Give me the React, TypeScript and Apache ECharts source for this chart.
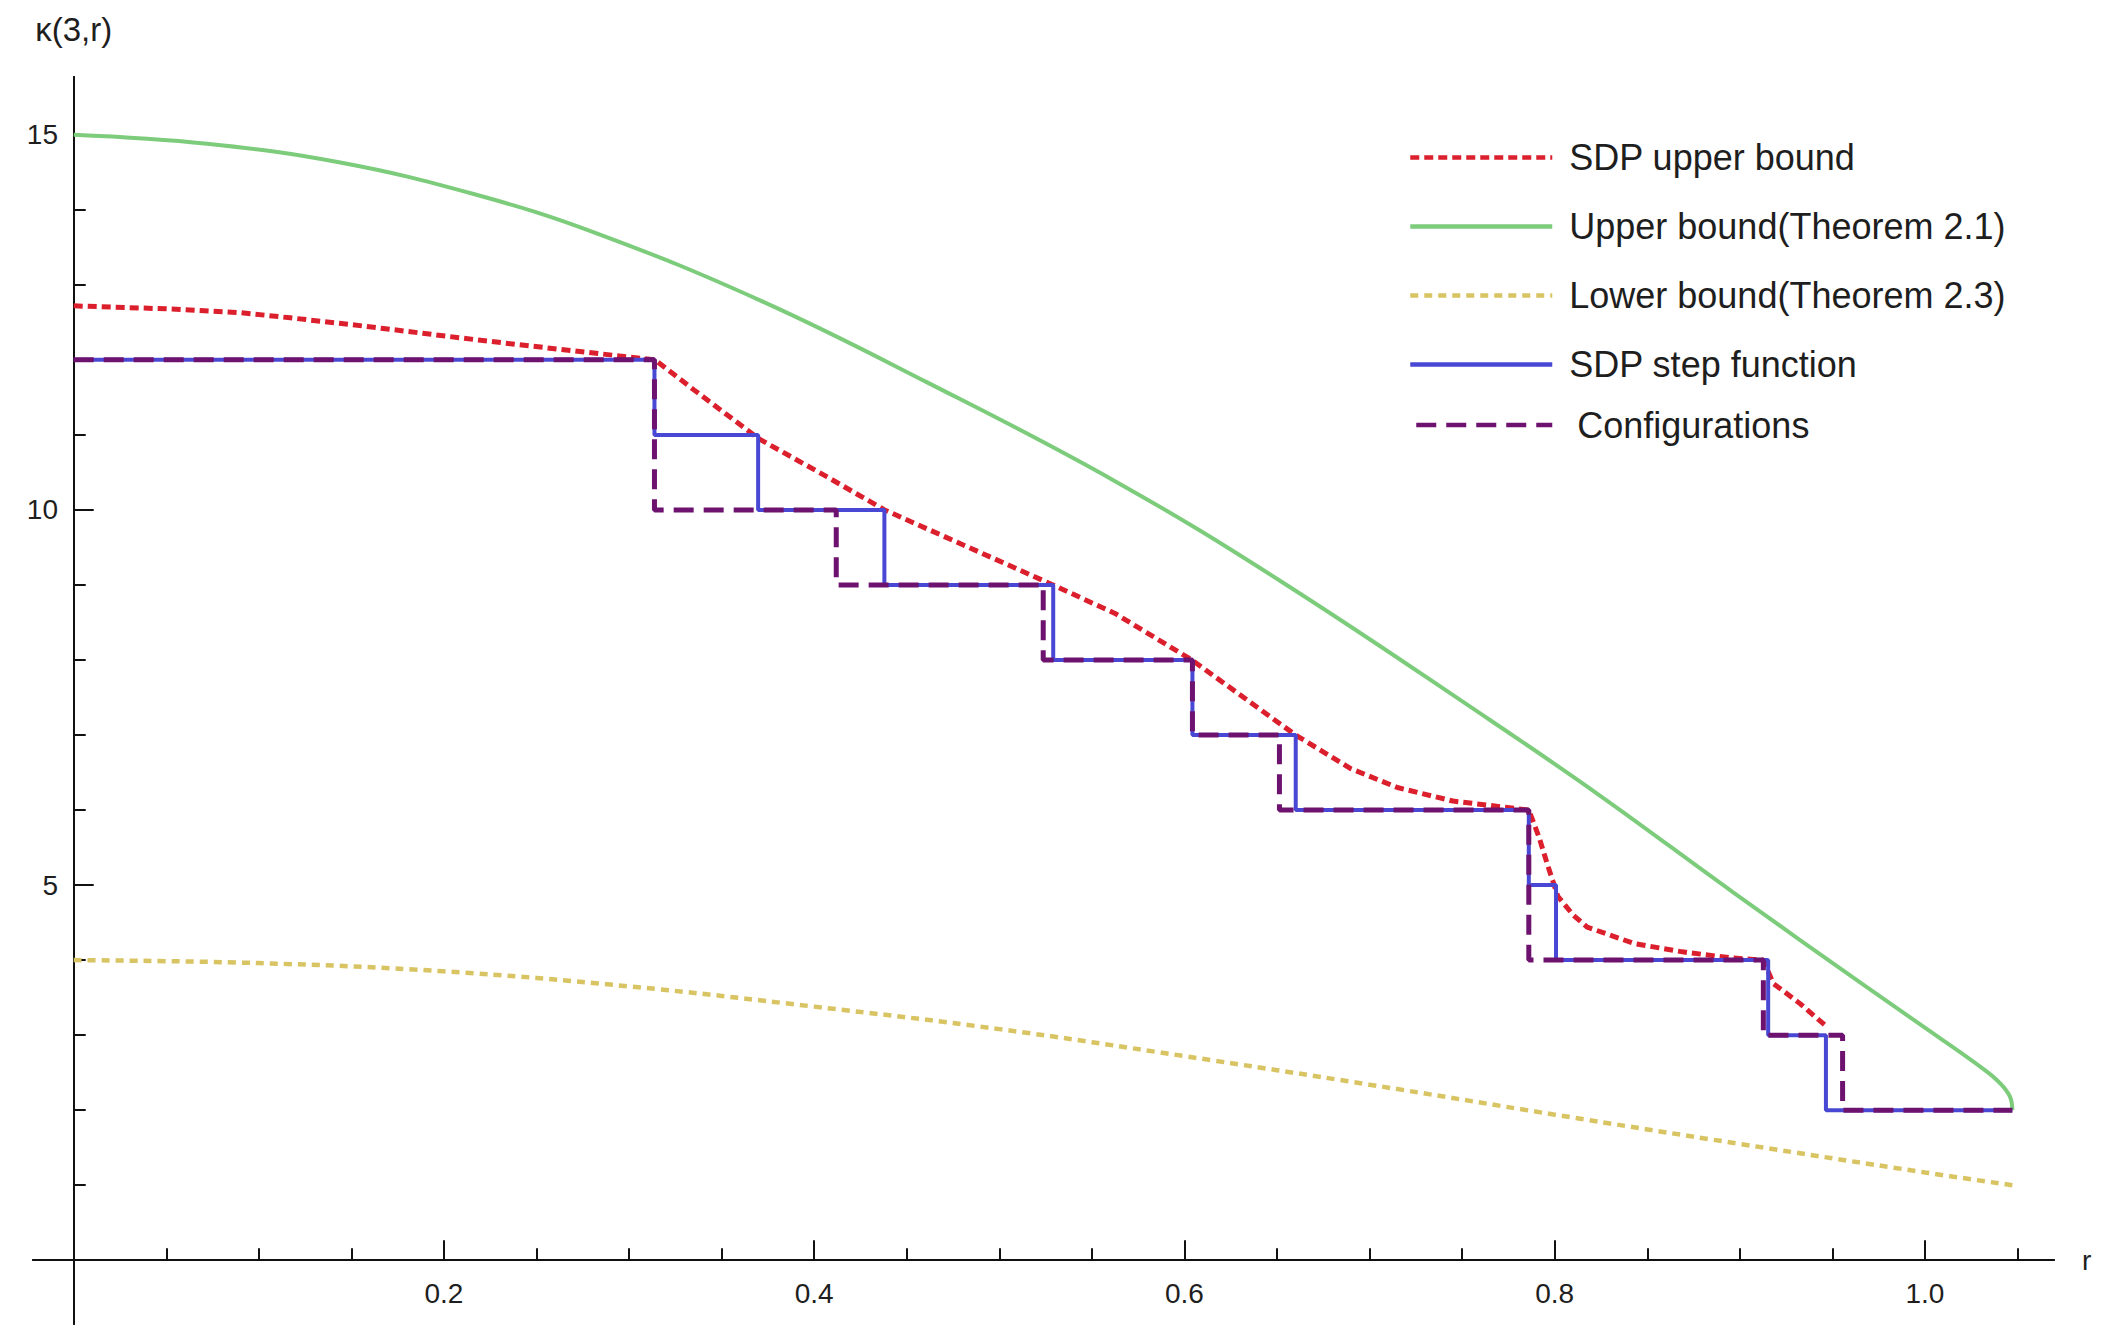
import React, { useEffect, useRef } from "react";
import * as echarts from "echarts";

// ---- data ----
const sdpUpperR = [0, 0.05, 0.09, 0.117, 0.15, 0.18, 0.22, 0.27, 0.314, 0.335, 0.37, 0.407, 0.438, 0.479, 0.529, 0.5625, 0.604, 0.632, 0.66, 0.69, 0.715, 0.745, 0.786, 0.7915, 0.7965, 0.8017, 0.81, 0.8175, 0.843, 0.869, 0.895, 0.9127, 0.918, 0.9325, 0.9466];
const sdpUpperK = [12.72, 12.68, 12.63, 12.56, 12.47, 12.38, 12.26, 12.12, 12.0, 11.6, 10.95, 10.44, 10.0, 9.55, 9.0, 8.62, 8.0, 7.5, 7.0, 6.55, 6.3, 6.12, 6.0, 5.64, 5.24, 4.85, 4.6, 4.44, 4.22, 4.11, 4.03, 4.0, 3.69, 3.42, 3.12];

const thm21R = [0, 0.072, 0.144, 0.216, 0.281, 0.371, 0.461, 0.562, 0.652, 0.765, 0.824, 0.896, 0.968, 1.004, 1.032, 1.0405, 1.0459, 1.0472];
const thm21K = [15.0, 14.88, 14.63, 14.21, 13.7, 12.79, 11.7, 10.39, 9.05, 7.2, 6.2, 4.91, 3.65, 3.03, 2.54, 2.36, 2.18, 2.0];

const thm23R = [0, 0.1, 0.2, 0.3, 0.4, 0.5, 0.6, 0.7, 0.8, 0.9, 1.0, 1.0472];
const thm23K = [4.0, 3.96, 3.85, 3.65, 3.38, 3.08, 2.72, 2.34, 1.94, 1.55, 1.17, 1.0];

const stepR = [0, 0.3137, 0.3697, 0.4379, 0.5291, 0.6043, 0.6601, 0.786, 0.8007, 0.9153, 0.9465, 1.0472];
const stepK = [12, 11, 10, 9, 8, 7, 6, 5, 4, 3, 2, 2];

const configR = [0, 0.3137, 0.4119, 0.5237, 0.6043, 0.6513, 0.786, 0.9127, 0.9555, 1.0472];
const configK = [12, 10, 9, 8, 7, 6, 4, 3, 2, 2];

const xMajorTicks = [0.2, 0.4, 0.6, 0.8, 1.0];
const xMinorTicks = [0.05, 0.1, 0.15, 0.25, 0.3, 0.35, 0.45, 0.5, 0.55, 0.65, 0.7, 0.75, 0.85, 0.9, 0.95, 1.05];
const xTickLabels = [0.2, 0.4, 0.6, 0.8, 1.0];
const yMajorTicks = [5, 10, 15];
const yMinorTicks = [1, 2, 3, 4, 6, 7, 8, 9, 11, 12, 13, 14];
const yTickLabels = [5, 10, 15];

const legendNamesMain = [
  "SDP upper bound",
  "Upper bound(Theorem 2.1)",
  "Lower bound(Theorem 2.3)",
  "SDP step function",
];
const legendNamesLast = ["Configurations"];

const X_MIN = -0.022;
const X_MAX = 1.0697;
const Y_MIN = -0.85;
const Y_MAX = 15.77;

const FONT = "'Liberation Sans', Arial, sans-serif";
const AXIS_COLOR = "#111";
const TEXT_COLOR = "#1e1e1e";

const zip = (xs: number[], ys: number[]) => xs.map((x, i) => [x, ys[i]]);

export default function App() {
  const ref = useRef<HTMLDivElement>(null);

  useEffect(() => {
    document.body.style.margin = "0";
    document.body.style.overflow = "hidden";
    const chart = echarts.init(ref.current!, null, { renderer: "svg" });

    const xAxisBase = (idx: number) => ({
      type: "value",
      min: X_MIN,
      max: X_MAX,
      position: "bottom",
      axisLine: { show: true, onZero: true, onZeroAxisIndex: idx, lineStyle: { color: AXIS_COLOR, width: 2 } },
      splitLine: { show: false },
    });
    const yAxisBase = (idx: number) => ({
      type: "value",
      min: Y_MIN,
      max: Y_MAX,
      position: "left",
      axisLine: { show: true, onZero: true, onZeroAxisIndex: idx, lineStyle: { color: AXIS_COLOR, width: 2 } },
      splitLine: { show: false },
    });

    const legendCommon = {
      orient: "vertical",
      padding: 0,
      itemHeight: 14,
      selectedMode: false,
      itemStyle: { opacity: 0 },
      lineStyle: { width: 4.5 },
    };

    chart.setOption({
      animation: false,
      backgroundColor: "#ffffff",
      grid: { left: 33, right: 64, top: 77, bottom: 11, containLabel: false, outerBoundsMode: "none" },
      legend: [
        {
          ...legendCommon,
          data: legendNamesMain,
          left: 1408,
          top: 139.5,
          itemWidth: 142,
          itemGap: 33,
          textStyle: { fontSize: 36, color: TEXT_COLOR, fontFamily: FONT, padding: [0, 0, 0, 12] },
        },
        {
          ...legendCommon,
          data: legendNamesLast,
          left: 1414,
          top: 407,
          itemWidth: 136,
          itemGap: 33,
          textStyle: { fontSize: 36, color: TEXT_COLOR, fontFamily: FONT, padding: [0, 0, 0, 20] },
        },
      ],
      xAxis: [
        {
          ...xAxisBase(0),
          name: "r",
          nameLocation: "end",
          nameGap: 28,
          nameTextStyle: { fontSize: 28, color: TEXT_COLOR, fontFamily: FONT },
          axisTick: { show: true, inside: true, length: 20, customValues: xMajorTicks, lineStyle: { color: AXIS_COLOR, width: 2 } },
          axisLabel: {
            show: true,
            customValues: xTickLabels,
            margin: -45,
            fontSize: 28,
            color: TEXT_COLOR,
            fontFamily: FONT,
            formatter: (v: number) => v.toFixed(1),
          },
        },
        {
          ...xAxisBase(1),
          axisTick: { show: true, inside: true, length: 12, customValues: xMinorTicks, lineStyle: { color: AXIS_COLOR, width: 2 } },
          axisLabel: { show: false },
        },
      ],
      yAxis: [
        {
          ...yAxisBase(0),
          name: "κ(3,r)",
          nameLocation: "end",
          nameGap: 31,
          nameTextStyle: { fontSize: 33, color: TEXT_COLOR, fontFamily: FONT, align: "center" },
          axisTick: { show: true, inside: true, length: 20, customValues: yMajorTicks, lineStyle: { color: AXIS_COLOR, width: 2 } },
          axisLabel: {
            show: true,
            customValues: yTickLabels,
            margin: -25,
            fontSize: 28,
            color: TEXT_COLOR,
            fontFamily: FONT,
            formatter: (v: number) => String(Math.round(v)),
          },
        },
        {
          ...yAxisBase(1),
          axisTick: { show: true, inside: true, length: 12, customValues: yMinorTicks, lineStyle: { color: AXIS_COLOR, width: 2 } },
          axisLabel: { show: false },
        },
      ],
      series: [
        {
          name: "Upper bound(Theorem 2.1)",
          type: "line",
          data: zip(thm21R, thm21K),
          symbol: "none",
          showSymbol: false,
          smooth: 0.4,
          color: "#7ccc7c",
          lineStyle: { color: "#7ccc7c", width: 4 },
          silent: true,
        },
        {
          name: "Lower bound(Theorem 2.3)",
          type: "line",
          data: zip(thm23R, thm23K),
          symbol: "none",
          showSymbol: false,
          smooth: 0.4,
          color: "#d8c462",
          lineStyle: { color: "#d8c462", width: 4.5, type: [8, 6] },
          silent: true,
        },
        {
          name: "SDP upper bound",
          type: "line",
          data: zip(sdpUpperR, sdpUpperK),
          symbol: "none",
          showSymbol: false,
          color: "#dc1f2c",
          lineStyle: { color: "#dc1f2c", width: 5, type: [9, 5] },
          silent: true,
        },
        {
          name: "SDP step function",
          type: "line",
          step: "end",
          data: zip(stepR, stepK),
          symbol: "none",
          showSymbol: false,
          color: "#4848d4",
          lineStyle: { color: "#4848d4", width: 4 },
          silent: true,
        },
        {
          name: "Configurations",
          type: "line",
          step: "end",
          data: zip(configR, configK),
          symbol: "none",
          showSymbol: false,
          color: "#6e1270",
          lineStyle: { color: "#6e1270", width: 5, type: [20, 10] },
          silent: true,
        },
      ],
    });

    return () => chart.dispose();
  }, []);

  return <div ref={ref} style={{ width: 2118, height: 1335 }} />;
}
